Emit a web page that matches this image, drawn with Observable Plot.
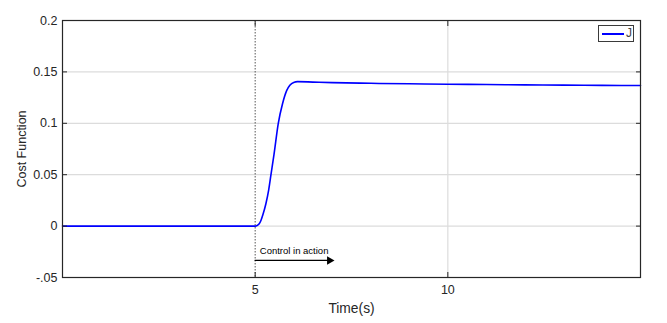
<!DOCTYPE html>
<html>
<head>
<meta charset="utf-8">
<script src="https://cdn.jsdelivr.net/npm/d3@7"></script>
<script src="https://cdn.jsdelivr.net/npm/@observablehq/plot@0.6"></script>
<style>
  body { margin: 0; background: #fff; }
  #wrap { position: relative; width: 667px; height: 323px; font-family: "Liberation Sans", Arial, Helvetica, sans-serif; }
  #legend { position: absolute; left: 598px; top: 25px; width: 34px; height: 15px; border: 1.5px solid #3a3a3a; background: #fff; box-sizing: content-box; }
  #legend .ln { position: absolute; left: 3px; top: 7px; width: 22px; height: 1.6px; background: #0000ff; }
  #legend .tx { position: absolute; left: 27px; top: 0px; font-size: 12px; line-height: 15px; color: #444; }
  g[aria-label="x-axis label"] { font-size: 13.8px; }
</style>
</head>
<body>
<div id="wrap"></div>
<script>
// Data
const time = [0, 5, 5.05, 5.1, 5.15, 5.2, 5.28, 5.35, 5.41, 5.49, 5.6, 5.71, 5.82, 5.9, 6.0, 6.1, 6.5, 7, 8, 9, 10, 11, 12, 13, 14, 15];
const cost = [0, 0, 0.0006, 0.002, 0.0055, 0.011, 0.022, 0.035, 0.05, 0.070, 0.1, 0.119, 0.132, 0.137, 0.1398, 0.1405, 0.1401, 0.1396, 0.1389, 0.1384, 0.1380, 0.1377, 0.1374, 0.1371, 0.1369, 0.1367];
const xTicks = [5, 10];
const xTickLabels = ["5", "10"];
const yTicks = [-0.05, 0, 0.05, 0.1, 0.15, 0.2];
const yTickLabels = ["-.05", "0", "0.05", "0.1", "0.15", "0.2"];
const controlStart = [5];
const annotation = [{x1: 5, x2: 6.93, y: -0.0334, label: "Control in action", tx: 5.12, ty: -0.0245}];
const seriesName = "J";

const data = time.map((t, i) => ({t, J: cost[i]}));
const fmtX = d => xTickLabels[xTicks.indexOf(d)] ?? "";
const fmtY = d => { const i = yTicks.findIndex(v => Math.abs(v - d) < 1e-9); return i >= 0 ? yTickLabels[i] : ""; };
const axisColor = "#262626";

const chart = Plot.plot({
  width: 667,
  height: 323,
  marginTop: 20,
  marginRight: 27,
  marginBottom: 46,
  marginLeft: 62,
  style: {fontFamily: '"Liberation Sans", Arial, Helvetica, sans-serif', fontSize: "12.5px", color: axisColor, background: "white"},
  x: {domain: [0, 15]},
  y: {domain: [-0.05, 0.2]},
  marks: [
    Plot.gridY(yTicks, {stroke: "#dcdcdc", strokeOpacity: 1, strokeWidth: 1.2}),
    Plot.gridX([10], {stroke: "#dcdcdc", strokeOpacity: 1, strokeWidth: 1.2}),
    Plot.ruleX(controlStart, {stroke: "#555", strokeWidth: 1, strokeDasharray: "1.5,1.5"}),
    Plot.line(data, {x: "t", y: "J", stroke: "#0000ff", strokeWidth: 1.6, curve: "monotone-x"}),
    Plot.ruleY(annotation, {x1: "x1", x2: "x2", y: "y", stroke: "black", strokeWidth: 1.3}),
    Plot.dot(annotation, {x: "x2", y: "y", symbol: "triangle", rotate: 90, r: 3.2, fill: "black", stroke: null}),
    Plot.text(annotation, {x: "tx", y: "ty", text: "label", textAnchor: "start", fontSize: 9.5, fill: "black"}),
    Plot.frame({stroke: axisColor, strokeWidth: 1.2}),
    Plot.axisX({anchor: "bottom", ticks: xTicks, tickSize: -5, tickPadding: 13, tickFormat: fmtX, fontSize: 12.5, label: "Time(s)", labelAnchor: "center", labelOffset: 35, labelArrow: "none", stroke: axisColor}),
    Plot.axisX({anchor: "top", ticks: xTicks, tickSize: -5, tickFormat: () => "", label: null, stroke: axisColor}),
    Plot.axisY({anchor: "left", ticks: yTicks, tickSize: -5, tickPadding: 10, tickFormat: fmtY, fontSize: 12.5, label: "Cost Function", labelAnchor: "center", labelOffset: 45, labelArrow: "none", stroke: axisColor}),
    Plot.axisY({anchor: "right", ticks: yTicks, tickSize: -5, tickFormat: () => "", label: null, stroke: axisColor})
  ]
});

const wrap = document.getElementById("wrap");
wrap.appendChild(chart);
const legend = document.createElement("div");
legend.id = "legend";
legend.innerHTML = `<div class="ln"></div><div class="tx">${seriesName}</div>`;
wrap.appendChild(legend);
</script>
</body>
</html>
